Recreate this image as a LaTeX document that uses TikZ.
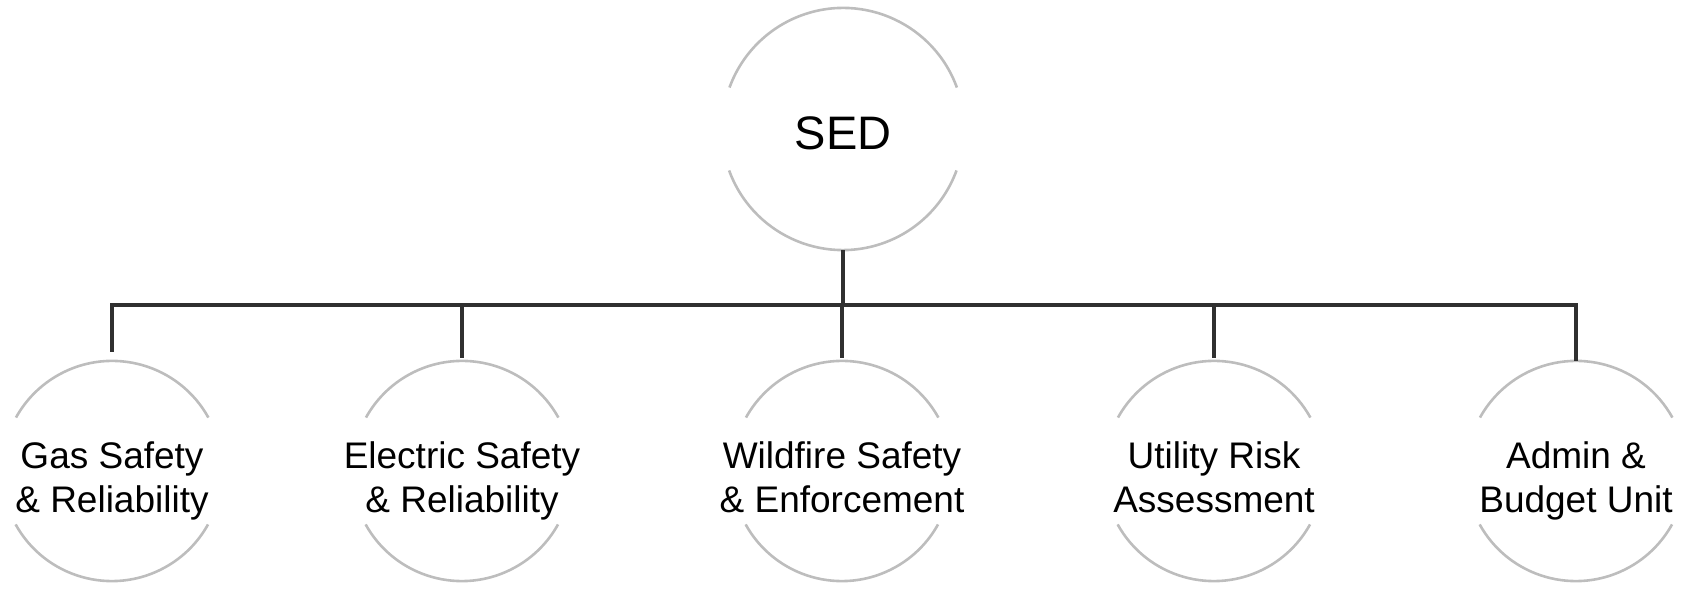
\documentclass[tikz,border=0pt]{standalone}
\usepackage{fontspec}
\setmainfont{Liberation Sans}
\begin{document}
\begin{tikzpicture}[x=1pt,y=1pt,
  ring/.style={circle,draw=none,inner sep=0pt,minimum size=#1},
  arcline/.style={draw=arcgray,line width=2.6pt},
  conn/.style={draw=conngray,line width=4.6pt,line join=miter},
  lbl/.style={align=center,font=\fontsize{37}{44}\selectfont,inner sep=0pt,anchor=base},
]
\definecolor{arcgray}{HTML}{BDBDBD}
\definecolor{conngray}{HTML}{303030}
\useasboundingbox (0,0) rectangle (1684,594);
% top node
\node[ring=242pt] (sed) at (843,465) {};
\node[font=\fontsize{47}{56}\selectfont,inner sep=0pt] (sedt) at (843,461) {SED};
\draw[arcline] (sed.20) arc[start angle=20,end angle=160,radius=121];
\draw[arcline] (sed.200) arc[start angle=200,end angle=340,radius=121];
% bottom nodes
\foreach \n/\x/\t in {gas/112/{Gas Safety\\\& Reliability},ele/462/{Electric Safety\\\& Reliability},wil/842/{Wildfire Safety\\\& Enforcement},uti/1214/{Utility Risk\\Assessment},adm/1576/{Admin \&\\Budget Unit}}{
  \node[ring=220pt] (\n) at (\x,123) {};
  \node[lbl] (\n t) at (\x,81) {\t};
  \draw[arcline] (\n.29) arc[start angle=29,end angle=151,radius=110];
  \draw[arcline] (\n.209) arc[start angle=209,end angle=331,radius=110];
}
\coordinate (bus) at (843,289);
\draw[conn] (gas.north) ++(0,9) -- (gas.north |- bus) -- (adm.north |- bus) -- (adm.north);
\draw[conn] (sed.south) -- (sed.south |- bus);
\draw[conn] (ele.north |- bus) -- ([yshift=3pt]ele.north);
\draw[conn] (wil.north |- bus) -- ([yshift=3pt]wil.north);
\draw[conn] (uti.north |- bus) -- ([yshift=3pt]uti.north);
\end{tikzpicture}
\end{document}
